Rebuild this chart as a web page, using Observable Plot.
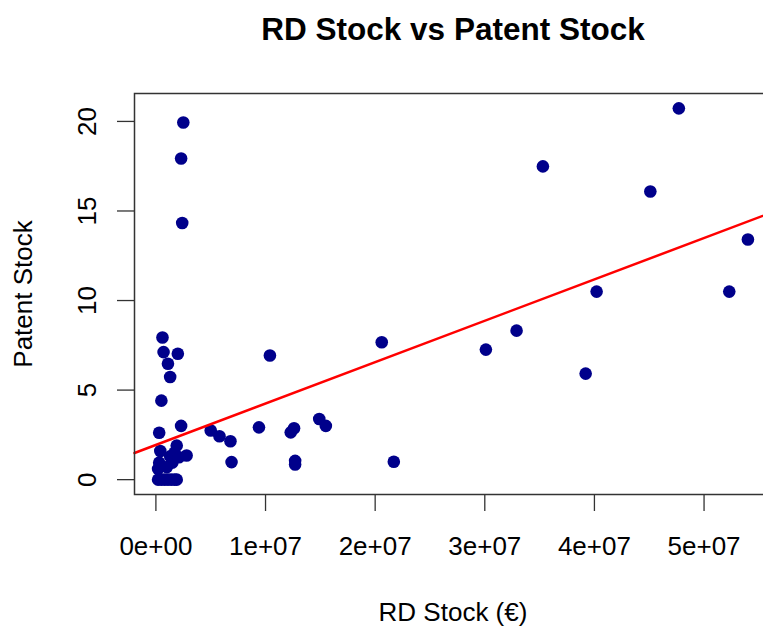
<!DOCTYPE html>
<html><head><meta charset="utf-8">
<script src="https://cdn.jsdelivr.net/npm/d3@7"></script>
<script src="https://cdn.jsdelivr.net/npm/@observablehq/plot@0.6"></script>
<style>
html,body{margin:0;padding:0;background:#fff;overflow:hidden;}
#chart{width:763px;height:626px;overflow:hidden;position:relative;}
</style></head><body><div id="chart"></div>
<script>
// Data
const rdStock = [
  0.02e7, 0.05e7, 0.08e7, 0.11e7, 0.14e7, 0.17e7, 0.19e7,
  0.02e7, 0.03e7, 0.04e7, 0.15e7, 0.13e7, 0.19e7, 0.17e7, 0.21e7, 0.28e7, 0.10e7,
  0.03e7, 0.23e7, 0.05e7, 0.13e7, 0.11e7, 0.07e7, 0.20e7, 0.06e7, 0.24e7, 0.23e7, 0.25e7,
  0.50e7, 0.58e7, 0.68e7, 0.69e7, 0.94e7, 1.04e7, 1.23e7, 1.26e7, 1.27e7, 1.27e7,
  1.49e7, 1.55e7, 2.06e7, 2.17e7,
  3.01e7, 3.29e7, 3.53e7, 3.92e7, 4.02e7, 4.51e7, 4.77e7, 5.23e7, 5.40e7
];
const patentStock = [
  0, 0, 0, 0, 0, 0, 0,
  0.6, 0.95, 1.6, 0.95, 1.3, 1.9, 1.5, 1.25, 1.35, 0.7,
  2.62, 3.0, 4.41, 5.73, 6.47, 7.12, 7.03, 7.94, 14.33, 17.93, 19.94,
  2.74, 2.42, 2.14, 0.98, 2.92, 6.93, 2.64, 2.87, 0.85, 1.05,
  3.39, 3.0, 7.67, 1.0,
  7.26, 8.32, 17.49, 5.92, 10.5, 16.09, 20.73, 10.5, 13.41
];
const xTicks = [0, 1e7, 2e7, 3e7, 4e7, 5e7];
const xTickLabels = ["0e+00", "1e+07", "2e+07", "3e+07", "4e+07", "5e+07"];
const yTicks = [0, 5, 10, 15, 20];
const yTickLabels = ["0", "5", "10", "15", "20"];
const fitIntercept = 1.94;   // regression line
const fitSlope = 2.31e-7;
const titleText = "RD Stock vs Patent Stock";
const xLabelText = "RD Stock (€)";
const yLabelText = "Patent Stock";

const points = rdStock.map((x, i) => ({x, y: patentStock[i]}));
function padded(vals) {
  const [a, b] = d3.extent(vals);
  const p = 0.04 * (b - a);
  return [a - p, b + p];
}
const xDomain = padded(rdStock);
const yDomain = padded(patentStock);
const fitLine = xDomain.map(x => ({x, y: fitIntercept + fitSlope * x}));

const font = "'Liberation Sans', Arial, sans-serif";
const chart = Plot.plot({
  width: 780,
  height: 626,
  marginLeft: 134,
  marginRight: 9,
  marginTop: 93,
  marginBottom: 132,
  style: {fontFamily: font, fontSize: "26px", maxWidth: "none", background: "#fff", color: "#000"},
  x: {domain: xDomain, label: null},
  y: {domain: yDomain, label: null},
  marks: [
    Plot.dot(points, {x: "x", y: "y", r: 6.3, fill: "#00008B", stroke: "none"}),
    Plot.line(fitLine, {x: "x", y: "y", stroke: "#ff0000", strokeWidth: 2.5}),
    Plot.axisX(xTicks, {anchor: "bottom", tickSize: 17, fill: "none", stroke: "#333", strokeWidth: 1.3, label: null}),
    Plot.axisY(yTicks, {anchor: "left", tickSize: 17, fill: "none", stroke: "#333", strokeWidth: 1.3, label: null}),
    Plot.text(xTicks, {x: d => d, text: (d, i) => xTickLabels[i], frameAnchor: "bottom", dy: 60, lineAnchor: "bottom", fontSize: 26, fill: "#000"}),
    Plot.text(yTicks, {y: d => d, text: (d, i) => yTickLabels[i], frameAnchor: "left", dx: -39, rotate: -90, lineAnchor: "bottom", textAnchor: "middle", fontSize: 26, fill: "#000"}),
    Plot.text([xLabelText], {frameAnchor: "bottom", dy: 126, lineAnchor: "bottom", fontSize: 26, fill: "#000"}),
    Plot.text([yLabelText], {frameAnchor: "left", dx: -103, rotate: -90, lineAnchor: "bottom", textAnchor: "middle", fontSize: 26, fill: "#000"}),
    Plot.text([titleText], {frameAnchor: "top", dy: -54, lineAnchor: "bottom", fontSize: 31.5, fontWeight: "bold", fill: "#000"}),
    Plot.frame({stroke: "#333", strokeWidth: 1.5})
  ]
});
document.getElementById("chart").appendChild(chart);
</script></body></html>
